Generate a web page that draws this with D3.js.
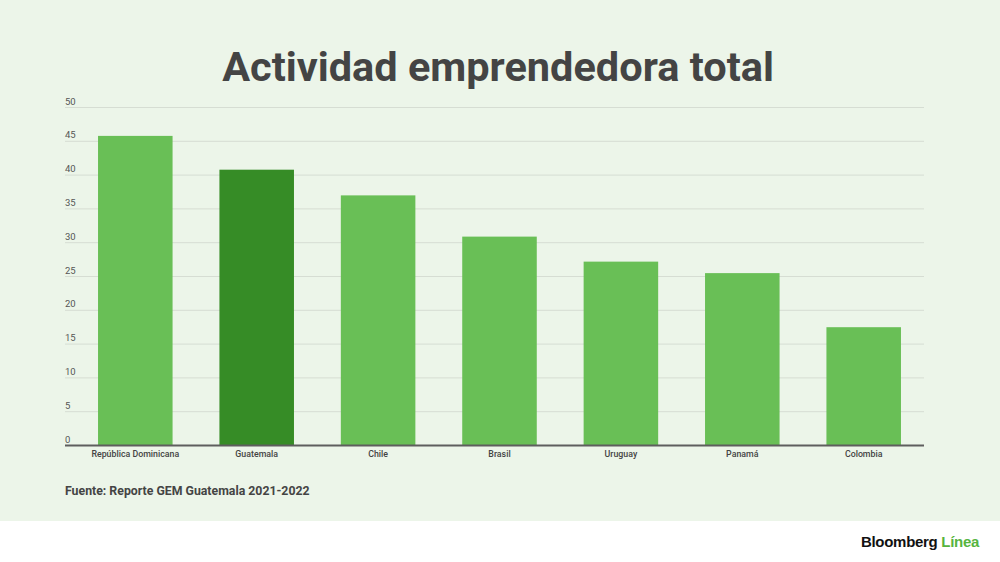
<!DOCTYPE html>
<html><head><meta charset="utf-8">
<script src="https://cdn.jsdelivr.net/npm/d3@7"></script>
<style>html,body{margin:0;padding:0;background:#fff;}svg{display:block;}</style>
</head><body>
<svg id="c" width="1000" height="562"></svg>
<script>
const categories = ["República Dominicana","Guatemala","Chile","Brasil","Uruguay","Panamá","Colombia"];
const values = [45.8, 40.8, 37.0, 30.9, 27.2, 25.5, 17.5];
const highlight = ["Guatemala"];
const yTicks = [0,5,10,15,20,25,30,35,40,45,50];
const title = "Actividad emprendedora total";
const source = "Fuente: Reporte GEM Guatemala 2021-2022";

const svg = d3.select("#c");
svg.append("rect").attr("x",0).attr("y",0).attr("width",1000).attr("height",521).attr("fill","#ecf5e9");

svg.append("text").attr("x",498).attr("y",81).attr("text-anchor","middle")
  .attr("font-family","Roboto").attr("font-weight",700).attr("font-size",41.5)
  .attr("fill","#444444").text(title);

const y = d3.scaleLinear().domain([0,50]).range([445.5,107.5]);
const x = d3.scaleBand().domain(categories).range([74.6,924.4]).paddingInner(0.386).paddingOuter(0.193);

const grid = svg.append("g");
yTicks.forEach(t=>{
  if(t>0) grid.append("line").attr("x1",65).attr("x2",924).attr("y1",y(t)).attr("y2",y(t))
    .attr("stroke","#d6ddd3").attr("stroke-width",1);
  grid.append("text").attr("x",65).attr("y",y(t)-3).attr("font-family","Roboto").attr("font-size",9.5)
    .attr("fill","#555").text(t);
});

svg.append("g").selectAll("rect").data(categories).join("rect")
  .attr("x",d=>x(d)).attr("width",x.bandwidth())
  .attr("y",(d,i)=>y(values[i])).attr("height",(d,i)=>y(0)-y(values[i]))
  .attr("fill",d=>highlight.includes(d)?"#368c26":"#69bf56");

svg.append("line").attr("x1",65).attr("x2",924).attr("y1",y(0)).attr("y2",y(0))
  .attr("stroke","#5e5e5e").attr("stroke-width",2);

svg.append("g").selectAll("text").data(categories).join("text")
  .attr("x",d=>x(d)+x.bandwidth()/2).attr("y",457).attr("text-anchor","middle")
  .attr("font-family","Roboto").attr("font-weight",500).attr("font-size",8.8).attr("fill","#444")
  .text(d=>d);

svg.append("text").attr("x",65).attr("y",495).attr("font-family","Roboto").attr("font-weight",700)
  .attr("font-size",12.3).attr("fill","#444").text(source);

const logo = svg.append("text").attr("x",979).attr("y",547).attr("text-anchor","end")
  .attr("font-family","Liberation Sans").attr("font-weight",700).attr("font-size",15).attr("letter-spacing",-0.3);
logo.append("tspan").attr("fill","#111").text("Bloomberg ");
logo.append("tspan").attr("fill","#56b43f").text("Línea");
</script>
</body></html>
